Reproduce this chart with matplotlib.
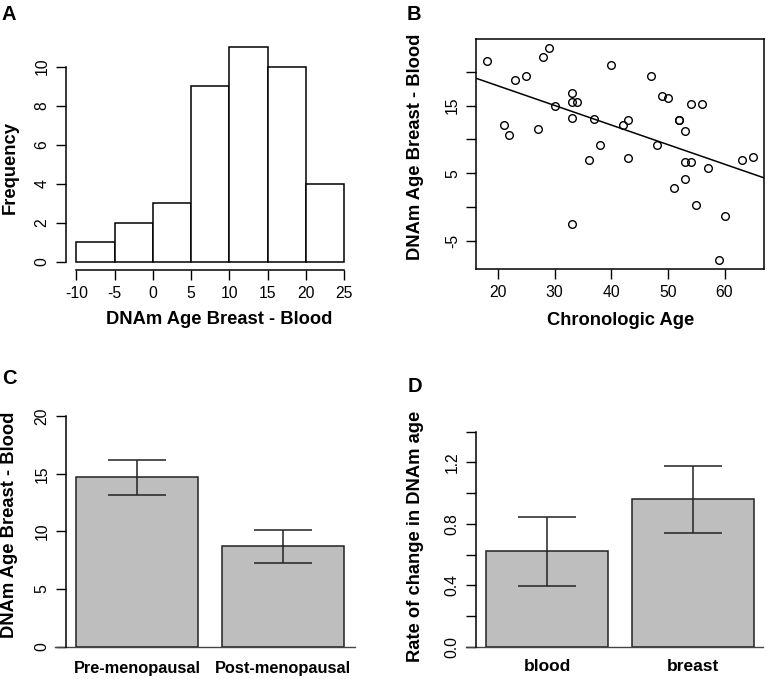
import matplotlib
matplotlib.use("Agg")
import matplotlib.pyplot as plt
import numpy as np

# Dados do painel B (idade cronologica x diferenca DNAm mama - sangue)
idade = [18, 23, 25, 28, 29, 21, 22, 27, 30, 33, 33, 34, 33, 37, 38, 36, 33,
         40, 42, 43, 43, 47, 49, 50, 48, 52, 52, 53, 54, 56, 53, 54, 53, 51,
         55, 57, 60, 59, 63, 65]
diferenca = [21.6, 18.8, 19.4, 22.2, 23.6, 12.2, 10.7, 11.6, 14.9, 16.9, 15.6,
             15.6, 13.2, 13.0, 9.2, 6.9, -2.5, 21.0, 12.2, 12.9, 7.3, 19.4,
             16.4, 16.1, 9.2, 12.9, 12.9, 11.2, 15.3, 15.2, 6.6, 6.7, 4.2, 2.8,
             0.3, 5.8, -1.4, -7.9, 6.9, 7.4]

# Painel C
grupos_c = ["Pre-menopausal", "Post-menopausal"]
media_c = [14.7, 8.7]
erro_c = [1.5, 1.4]

# Painel D
grupos_d = ["blood", "breast"]
media_d = [0.62, 0.96]
erro_d = [0.227, 0.217]

W, H = 767, 679
plt.rcParams['font.family'] = ['Liberation Sans', 'DejaVu Sans']
plt.rcParams['axes.unicode_minus'] = False
fig = plt.figure(figsize=(W / 100, H / 100), dpi=100)


def eixo(esq, dir, topo, base):
    # cria eixo a partir de coordenadas em pixels
    return fig.add_axes([esq / W, 1 - base / H, (dir - esq) / W, (base - topo) / H])


def texto(x, y, s, **kw):
    fig.text(x / W, 1 - y / H, s, ha='center', va='center', **kw)


tick_kw = dict(labelsize=11.3, length=7.5, width=1.0, pad=4)
lab_kw = dict(fontsize=13.2, fontweight='bold')

# ---------------- A: histograma ----------------
ax = eixo(65.6, 355, 38.6, 270.3)
ax.hist(diferenca, bins=np.arange(-10, 30, 5), facecolor='white', edgecolor='black', linewidth=1.1)
ax.set_xlim(-11.4, 26.4)
ax.set_ylim(-0.44, 11.44)
ax.spines['top'].set_visible(False)
ax.spines['right'].set_visible(False)
ax.spines['left'].set_bounds(0, 10)
ax.spines['bottom'].set_bounds(-10, 25)
ax.set_xticks(np.arange(-10, 30, 5))
ax.set_yticks(np.arange(0, 12, 2))
ax.tick_params(**tick_kw)
plt.setp(ax.get_yticklabels(), rotation=90, va='center')
for s in ax.spines.values():
    s.set_linewidth(1.1)
texto(10, 167.5, "Frequency", rotation=90, **lab_kw)
texto(219.5, 319, "DNAm Age Breast - Blood", **lab_kw)
texto(9, 15, "A", fontsize=14.5, fontweight='bold')

# ---------------- B: dispersao ----------------
ax = eixo(476, 763.5, 39, 268.8)
ax.plot(idade, diferenca, 'o', mfc='none', mec='black', ms=5.5, mew=1.0)
b, a = np.polyfit(idade, diferenca, 1)
ax.axline((0, a), slope=b, color='black', lw=1.1)
xr = max(idade) - min(idade)
yr = max(diferenca) - min(diferenca)
ax.set_xlim(min(idade) - 0.04 * xr, max(idade) + 0.04 * xr)
ax.set_ylim(min(diferenca) - 0.04 * yr, max(diferenca) + 0.04 * yr)
ax.set_xticks([20, 30, 40, 50, 60])
ax.set_yticks([-5, 0, 5, 10, 15, 20])
ax.set_yticklabels(["-5", "", "5", "", "15", ""])
ax.tick_params(**tick_kw)
plt.setp(ax.get_yticklabels(), rotation=90, va='center')
for s in ax.spines.values():
    s.set_linewidth(1.1)
texto(415.8, 146.7, "DNAm Age Breast - Blood", rotation=90, **lab_kw)
texto(621, 320.5, "Chronologic Age", **lab_kw)
texto(414, 14, "B", fontsize=14.5, fontweight='bold')

# ---------------- C: barras ----------------
pos = [0.7, 1.9]
ax = eixo(65.6, 355, 406.9, 655.9)
ax.bar(pos, media_c, width=1.0, color='#bebebe', edgecolor='#222222', linewidth=1.1)
ax.errorbar(pos, media_c, yerr=erro_c, fmt='none', ecolor='#222222', elinewidth=1.1,
            capsize=21, capthick=1.1)
ax.set_xlim(0.112, 2.488)
ax.set_ylim(-0.8, 20.8)
for k in ['top', 'right', 'bottom']:
    ax.spines[k].set_visible(False)
ax.spines['left'].set_bounds(0, 20)
ax.spines['left'].set_linewidth(1.1)
ax.plot([-0.037, 1], [0, 0], transform=ax.get_yaxis_transform(), color='#444444',
        lw=1.0, clip_on=False)
ax.set_yticks([0, 5, 10, 15, 20])
ax.set_xticks(pos, grupos_c)
ax.tick_params(**tick_kw)
ax.tick_params(axis='x', length=0, pad=3.5, labelsize=11.8)
plt.setp(ax.get_xticklabels(), fontweight='bold')
plt.setp(ax.get_yticklabels(), rotation=90, va='center')
texto(10, 524.5, "DNAm Age Breast - Blood", rotation=90, **lab_kw)
texto(9.5, 378, "C", fontsize=14.5, fontweight='bold')

# ---------------- D: barras ----------------
ax = eixo(475.7, 764.7, 423.1, 655.3)
ax.bar(pos, media_d, width=1.0, color='#bebebe', edgecolor='#222222', linewidth=1.1)
ax.errorbar(pos, media_d, yerr=erro_d, fmt='none', ecolor='#222222', elinewidth=1.1,
            capsize=21, capthick=1.1)
ax.set_xlim(0.112, 2.488)
ax.set_ylim(-0.056, 1.456)
for k in ['top', 'right', 'bottom']:
    ax.spines[k].set_visible(False)
ax.spines['left'].set_bounds(0, 1.4)
ax.spines['left'].set_linewidth(1.1)
ax.plot([-0.034, 0.995], [0, 0], transform=ax.get_yaxis_transform(), color='#444444',
        lw=1.0, clip_on=False)
ax.set_yticks(np.arange(0, 1.5, 0.2))
ax.set_yticklabels(["0.0", "", "0.4", "", "0.8", "", "1.2", ""])
ax.set_xticks(pos, grupos_d)
ax.tick_params(**tick_kw)
ax.tick_params(axis='x', length=0, pad=2.5, labelsize=12.5)
plt.setp(ax.get_xticklabels(), fontweight='bold')
plt.setp(ax.get_yticklabels(), rotation=90, va='center')
texto(415, 536.7, "Rate of change in DNAm age", rotation=90, **lab_kw)
texto(414.5, 386, "D", fontsize=14.5, fontweight='bold')

fig.savefig("out.png", dpi=100)
